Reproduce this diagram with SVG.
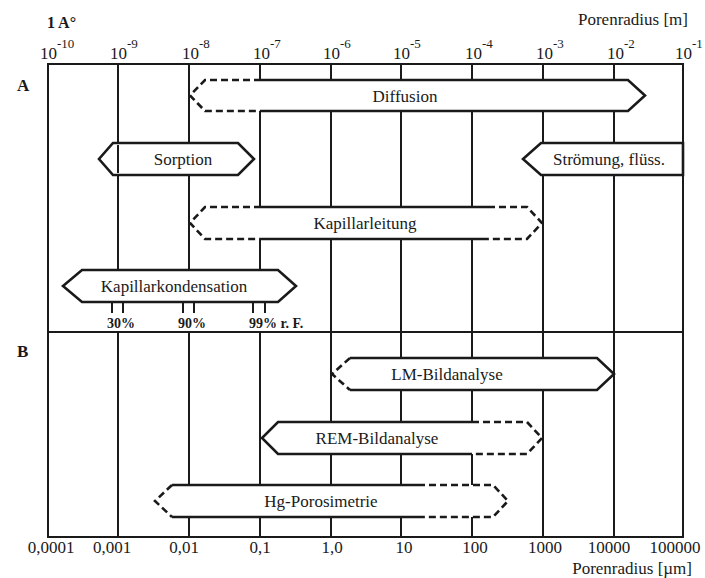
<svg xmlns="http://www.w3.org/2000/svg" width="705" height="578" viewBox="0 0 705 578">
<style>
  .bg { fill: #ffffff; }
  .grid { stroke: #1a1a1a; stroke-width: 2; fill: none; }
  .fill { fill: #ffffff; stroke: none; }
  .solid { stroke: #1a1a1a; stroke-width: 2.6; fill: none; stroke-linejoin: miter; }
  .dash { stroke: #1a1a1a; stroke-width: 2.6; fill: none; stroke-dasharray: 7 4; }
  text { font-family: 'Liberation Serif', 'DejaVu Serif', serif; fill: #1a1a1a; }
  .lbl { font-size: 17px; text-anchor: middle; }
  .ax { font-size: 17px; text-anchor: middle; }
  .exp { font-size: 17px; }
  .sup { font-size: 13px; }
  .pct { font-size: 14px; font-weight: bold; }
  .sec { font-size: 17px; font-weight: bold; }
</style>
<rect class="bg" x="0" y="0" width="705" height="578"/>

<g id="grid">
  <rect class="grid" x="48" y="64" width="635" height="473"/>
  <line class="grid" x1="48" y1="332" x2="683" y2="332"/>
  <line class="grid" x1="118" y1="64" x2="118" y2="270"/>
  <line class="grid" x1="189" y1="64" x2="189" y2="270"/>
  <line class="grid" x1="260" y1="64" x2="260" y2="270"/>
  <line class="grid" x1="331" y1="64" x2="331" y2="537"/>
  <line class="grid" x1="401" y1="64" x2="401" y2="537"/>
  <line class="grid" x1="472" y1="64" x2="472" y2="537"/>
  <line class="grid" x1="543" y1="64" x2="543" y2="537"/>
  <line class="grid" x1="614" y1="64" x2="614" y2="537"/>
  <line class="grid" x1="118" y1="332" x2="118" y2="537"/>
  <line class="grid" x1="189" y1="332" x2="189" y2="537"/>
  <line class="grid" x1="260" y1="332" x2="260" y2="537"/>
  <line class="grid" x1="112" y1="302" x2="112" y2="313"/>
  <line class="grid" x1="123" y1="302" x2="123" y2="313"/>
  <line class="grid" x1="183" y1="302" x2="183" y2="313"/>
  <line class="grid" x1="194" y1="302" x2="194" y2="313"/>
  <line class="grid" x1="253" y1="302" x2="253" y2="313"/>
  <line class="grid" x1="265" y1="302" x2="265" y2="313"/>
</g>

<g id="axis-top">
  <text class="sec" x="47" y="28" style="font-size:16px">1 A°</text>
  <text class="exp" x="40" y="59">10<tspan class="sup" dy="-11">-10</tspan></text>
  <text class="exp" x="110" y="59">10<tspan class="sup" dy="-11">-9</tspan></text>
  <text class="exp" x="182" y="59">10<tspan class="sup" dy="-11">-8</tspan></text>
  <text class="exp" x="253" y="59">10<tspan class="sup" dy="-11">-7</tspan></text>
  <text class="exp" x="323" y="59">10<tspan class="sup" dy="-11">-6</tspan></text>
  <text class="exp" x="393" y="59">10<tspan class="sup" dy="-11">-5</tspan></text>
  <text class="exp" x="465" y="59">10<tspan class="sup" dy="-11">-4</tspan></text>
  <text class="exp" x="536" y="59">10<tspan class="sup" dy="-11">-3</tspan></text>
  <text class="exp" x="607" y="59">10<tspan class="sup" dy="-11">-2</tspan></text>
  <text class="exp" x="675" y="59">10<tspan class="sup" dy="-11">-1</tspan></text>
  <text class="lbl" x="688" y="25" style="text-anchor:end">Porenradius [m]</text>
</g>

<g id="section-labels">
  <text class="sec" x="17" y="91">A</text>
  <text class="sec" x="17" y="357">B</text>
</g>

<g id="diffusion">
  <path class="fill" d="M205 80 L628 80 L645 95.5 L628 111 L205 111 L190 95.5 Z"/>
  <path class="dash" d="M261 80 L205 80 L190 95.5 L205 111 L261 111"/>
  <path class="solid" d="M261 80 L628 80 L645 95.5 L628 111 L261 111"/>
  <text class="lbl" x="405" y="102">Diffusion</text>
</g>

<g id="sorption">
  <path class="fill" d="M113 143 L238 143 L254 159 L238 175 L113 175 L99 159 Z"/>
  <line class="grid" x1="118" y1="145" x2="118" y2="173" stroke-width="1.2"/>
  <path class="solid" d="M113 143 L238 143 L254 159 L238 175 L113 175 L99 159 Z"/>
  <text class="lbl" x="183" y="165">Sorption</text>
</g>

<g id="stroemung">
  <path class="fill" d="M683 143 L541 143 L523 159 L541 175 L683 175 Z"/>
  <path class="solid" d="M683 143 L541 143 L523 159 L541 175 L683 175 Z"/>
  <text class="lbl" x="609" y="165">Strömung, flüss.</text>
</g>

<g id="kapillarleitung">
  <path class="fill" d="M205 207 L527 207 L542 223 L527 239 L205 239 L190 223 Z"/>
  <path class="dash" d="M261 207 L205 207 L190 223 L205 239 L261 239"/>
  <path class="solid" d="M261 207 L488 207 M261 239 L488 239"/>
  <path class="dash" d="M488 207 L527 207 L542 223 L527 239 L488 239"/>
  <text class="lbl" x="365" y="229">Kapillarleitung</text>
</g>

<g id="kapillarkondensation">
  <path class="fill" d="M82 270 L278 270 L296 286 L278 302 L82 302 L63 286 Z"/>
  <path class="solid" d="M82 270 L278 270 L296 286 L278 302 L82 302 L63 286 Z"/>
  <text class="lbl" x="174" y="292">Kapillarkondensation</text>
  <text class="pct" x="121" y="328" style="text-anchor:middle">30%</text>
  <text class="pct" x="192" y="328" style="text-anchor:middle">90%</text>
  <text class="pct" x="249" y="328">99% r. F.</text>
</g>

<g id="lm-bildanalyse">
  <path class="fill" d="M350 358 L597 358 L614 374 L597 390 L350 390 L332 374 Z"/>
  <path class="dash" d="M350 358 L332 374 L350 390"/>
  <path class="solid" d="M350 358 L597 358 L614 374 L597 390 L350 390"/>
  <text class="lbl" x="447" y="380">LM-Bildanalyse</text>
</g>

<g id="rem-bildanalyse">
  <path class="fill" d="M278 422 L527 422 L542 438 L527 454 L278 454 L262 438 Z"/>
  <path class="solid" d="M472 422 L278 422 L262 438 L278 454 L472 454"/>
  <path class="dash" d="M472 422 L527 422 L542 438 L527 454 L472 454"/>
  <text class="lbl" x="377" y="444">REM-Bildanalyse</text>
</g>

<g id="hg-porosimetrie">
  <path class="fill" d="M172 485 L493 485 L508 501 L493 517 L172 517 L155 501 Z"/>
  <path class="dash" d="M172 485 L155 501 L172 517"/>
  <path class="solid" d="M172 485 L418 485 M172 517 L418 517"/>
  <path class="dash" d="M418 485 L493 485 L508 501 L493 517 L418 517"/>
  <text class="lbl" x="321" y="507">Hg-Porosimetrie</text>
</g>

<g id="axis-bottom">
  <text class="ax" x="51" y="553">0,0001</text>
  <text class="ax" x="112" y="553">0,001</text>
  <text class="ax" x="184" y="553">0,01</text>
  <text class="ax" x="260" y="553">0,1</text>
  <text class="ax" x="332" y="553">1,0</text>
  <text class="ax" x="404" y="553">10</text>
  <text class="ax" x="475" y="553">100</text>
  <text class="ax" x="545" y="553">1000</text>
  <text class="ax" x="609" y="553">10000</text>
  <text class="ax" x="675" y="553">100000</text>
  <text class="lbl" x="692" y="574" style="text-anchor:end">Porenradius [µm]</text>
</g>

<g id="connectors"></g>
</svg>
